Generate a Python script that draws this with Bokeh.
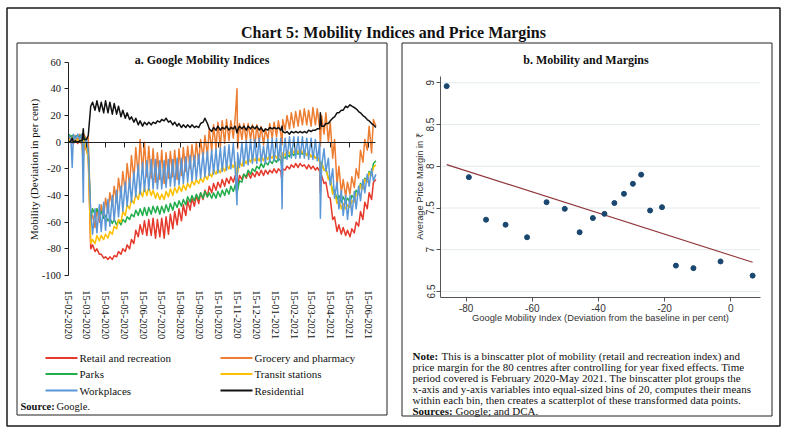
import pandas as pd
from bokeh.plotting import figure
from bokeh.models import (Range1d, LinearAxis, DatetimeAxis, FixedTicker,
                          DatetimeTickFormatter, CustomJSTickFormatter)
from bokeh.core.properties import value
from bokeh.embed import file_html
from bokeh.resources import INLINE

W, H = 787, 433

# ---------------- data: panel a (Google mobility indices) ----------------
dates = [
    "2020-02-16", "2020-02-19", "2020-02-21", "2020-02-23", "2020-02-26",
    "2020-03-01", "2020-03-04", "2020-03-08", "2020-03-10", "2020-03-11", "2020-03-15", "2020-03-18", "2020-03-22", "2020-03-25", "2020-03-29",
    "2020-04-01", "2020-04-05", "2020-04-08", "2020-04-12", "2020-04-15", "2020-04-19", "2020-04-22", "2020-04-26", "2020-04-29",
    "2020-05-03", "2020-05-06", "2020-05-10", "2020-05-13", "2020-05-17", "2020-05-20", "2020-05-24", "2020-05-27", "2020-05-31",
    "2020-06-03", "2020-06-07", "2020-06-10", "2020-06-14", "2020-06-17", "2020-06-21", "2020-06-24", "2020-06-28",
    "2020-07-01", "2020-07-05", "2020-07-08", "2020-07-12", "2020-07-15", "2020-07-19", "2020-07-22", "2020-07-26", "2020-07-29",
    "2020-08-02", "2020-08-05", "2020-08-09", "2020-08-12", "2020-08-16", "2020-08-19", "2020-08-23", "2020-08-26", "2020-08-30",
    "2020-09-02", "2020-09-06", "2020-09-09", "2020-09-13", "2020-09-16", "2020-09-20", "2020-09-23", "2020-09-27", "2020-09-30",
    "2020-10-04", "2020-10-07", "2020-10-11", "2020-10-14", "2020-10-18", "2020-10-21", "2020-10-25", "2020-10-28",
    "2020-11-01", "2020-11-04", "2020-11-08", "2020-11-11", "2020-11-14", "2020-11-15", "2020-11-18", "2020-11-22", "2020-11-25", "2020-11-29",
    "2020-12-02", "2020-12-06", "2020-12-09", "2020-12-13", "2020-12-16", "2020-12-20", "2020-12-23", "2020-12-27", "2020-12-30",
    "2021-01-03", "2021-01-06", "2021-01-10", "2021-01-13", "2021-01-17", "2021-01-20", "2021-01-24", "2021-01-26", "2021-01-27", "2021-01-31",
    "2021-02-03", "2021-02-07", "2021-02-10", "2021-02-14", "2021-02-17", "2021-02-21", "2021-02-24", "2021-02-28",
    "2021-03-03", "2021-03-07", "2021-03-10", "2021-03-14", "2021-03-17", "2021-03-21", "2021-03-24", "2021-03-28", "2021-03-29", "2021-03-31",
    "2021-04-04", "2021-04-07", "2021-04-11", "2021-04-14", "2021-04-18", "2021-04-21", "2021-04-25", "2021-04-28",
    "2021-05-02", "2021-05-05", "2021-05-09", "2021-05-12", "2021-05-16", "2021-05-19", "2021-05-23", "2021-05-26", "2021-05-30",
    "2021-06-02", "2021-06-06", "2021-06-09", "2021-06-13", "2021-06-16", "2021-06-20", "2021-06-23", "2021-06-27",
]

retail = [
    0, 2, 0, -1, 2,
    -1, 2, -2, -12, 0, -6, -10, -80, -77, -82,
    -80, -84, -84, -87, -86, -88, -86, -88, -85,
    -86, -82, -84, -80, -82, -77, -80, -73, -76,
    -66, -71, -62, -69, -59, -70, -58, -70,
    -57, -72, -58, -71, -57, -72, -56, -69, -54,
    -65, -52, -62, -50, -59, -47, -55, -44, -51,
    -42, -48, -40, -46, -38, -43, -36, -41, -33,
    -38, -31, -36, -30, -34, -28, -33, -27,
    -31, -26, -30, -25, -38, -33, -25, -28, -24, -27,
    -23, -27, -23, -26, -22, -25, -21, -25, -21,
    -24, -21, -23, -20, -23, -20, -22, -30, -20, -21,
    -18, -20, -17, -19, -16, -19, -16, -18,
    -17, -20, -17, -20, -18, -21, -19, -22, -38, -25,
    -31, -30, -41, -42, -58, -56, -67, -62,
    -69, -64, -70, -66, -71, -65, -68, -60, -63,
    -52, -58, -45, -50, -38, -43, -30, -28,
]

grocery = [
    2, 4, 5, 2, 5,
    2, 6, 3, -6, 6, 2, 4, -58, -55, -64,
    -50, -60, -47, -57, -42, -53, -38, -48, -33,
    -45, -27, -41, -22, -37, -16, -33, -10, -28,
    -4, -25, 2, -22, 0, -26, -3, -27,
    -5, -30, -8, -28, -6, -31, -8, -27, -7,
    -26, -6, -28, -5, -25, -4, -22, -3, -20,
    -2, -18, 0, -16, 2, -12, 5, -10, 10,
    -7, 13, -5, 15, -4, 16, -1, 17,
    1, 16, 3, 18, 40, -5, 14, 2, 14, 1,
    14, 2, 13, -3, 13, 0, 12, -2, 10,
    2, 14, 3, 15, 4, 16, 6, -2, 17, 9,
    20, 10, 22, 11, 23, 12, 24, 13,
    25, 13, 24, 12, 26, 13, 25, 10, -3, 20,
    6, 22, 0, 15, -12, 2, -32, -18,
    -38, -28, -41, -30, -39, -26, -34, -20, -27,
    -6, -15, 2, -6, 12, -8, 17, 12,
]

parks = [
    6, 4, 5, 5, 4,
    5, 4, 6, -4, 4, 0, -6, -58, -50, -54,
    -50, -54, -52, -57, -55, -59, -57, -61, -58,
    -62, -59, -62, -58, -60, -56, -58, -54, -56,
    -51, -55, -50, -55, -49, -55, -49, -54,
    -48, -53, -48, -54, -48, -53, -47, -52, -46,
    -51, -45, -49, -44, -48, -43, -47, -41, -45,
    -40, -44, -39, -43, -38, -42, -37, -41, -38,
    -42, -38, -42, -37, -41, -36, -40, -35,
    -39, -33, -37, -32, -38, -36, -29, -30, -24, -26,
    -21, -24, -20, -22, -18, -20, -16, -19, -15,
    -17, -14, -16, -13, -15, -12, -14, -20, -11, -12,
    -9, -11, -8, -10, -7, -9, -7, -9,
    -7, -10, -8, -11, -9, -12, -11, -14, -20, -15,
    -21, -20, -27, -28, -37, -36, -43, -40,
    -45, -41, -45, -42, -45, -40, -42, -36, -38,
    -31, -34, -27, -29, -22, -24, -16, -14,
]

transit = [
    1, 3, 2, 0, 3,
    0, 3, -1, -20, 2, -5, -12, -76, -73, -76,
    -70, -74, -70, -73, -69, -72, -67, -69, -63,
    -65, -58, -60, -52, -55, -47, -50, -43, -46,
    -39, -43, -36, -41, -34, -40, -34, -40,
    -36, -42, -38, -43, -39, -43, -37, -41, -35,
    -40, -34, -38, -33, -37, -32, -36, -31, -34,
    -29, -32, -28, -31, -27, -30, -25, -28, -23,
    -26, -21, -24, -20, -23, -18, -22, -17,
    -20, -16, -19, -15, -25, -23, -15, -18, -13, -16,
    -12, -15, -11, -14, -11, -14, -10, -14, -10,
    -13, -10, -12, -9, -12, -9, -11, -18, -8, -10,
    -6, -9, -5, -8, -5, -8, -5, -8,
    -6, -10, -7, -11, -9, -12, -11, -15, -25, -16,
    -21, -20, -28, -28, -39, -37, -46, -43,
    -50, -46, -50, -47, -49, -44, -45, -39, -39,
    -32, -35, -28, -30, -23, -25, -19, -17,
]

workplaces = [
    5, 2, -19, 6, 2,
    6, 2, 6, -45, -2, 3, -8, -52, -69, -50,
    -68, -47, -67, -45, -66, -43, -63, -40, -59,
    -36, -56, -33, -52, -30, -48, -27, -45, -22,
    -41, -17, -39, -15, -37, -14, -36, -13,
    -35, -13, -35, -14, -35, -14, -34, -13, -33,
    -13, -33, -12, -32, -12, -31, -11, -30, -10,
    -29, -10, -28, -9, -27, -8, -26, -7, -25,
    -6, -24, -5, -23, -4, -22, -3, -21,
    -2, -20, -1, -20, -47, -8, -19, 0, -18, 1,
    -17, 2, -16, 2, -16, 3, -15, -3, -16,
    2, -15, 3, -14, 3, -14, 3, -50, -14, 3,
    -13, 4, -12, 4, -12, 4, -12, 4,
    -12, 3, -13, 3, -13, 2, -14, 0, -57, -18,
    -5, -22, -12, -32, -20, -42, -30, -50,
    -36, -55, -40, -58, -40, -55, -37, -50, -33,
    -44, -28, -38, -24, -33, -20, -29, -24,
]

residential = [
    0, 1, 3, 0, 1,
    0, 1, 1, 10, 2, 2, 5, 27, 30, 24,
    31, 23, 30, 22, 31, 22, 30, 21, 29,
    21, 27, 19, 24, 18, 22, 17, 19, 15,
    18, 13, 16, 12, 15, 13, 15, 13,
    15, 14, 16, 15, 17, 16, 18, 15, 16,
    13, 15, 12, 14, 11, 13, 11, 13, 11,
    13, 11, 12, 11, 14, 15, 18, 14, 10,
    8, 11, 9, 12, 9, 11, 10, 12,
    9, 11, 10, 12, 7, 9, 12, 10, 12, 9,
    12, 10, 12, 10, 12, 9, 11, 8, 10,
    9, 11, 10, 11, 10, 11, 9, 12, 8, 7,
    8, 6, 8, 7, 8, 7, 8, 7,
    8, 7, 9, 8, 9, 9, 10, 10, 22, 12,
    12, 14, 14, 16, 18, 19, 22, 22,
    24, 24, 27, 26, 28, 27, 26, 25, 23,
    22, 20, 19, 17, 16, 14, 13, 11,
]

series_names = ["Retail and recreation", "Grocery and pharmacy", "Parks",
                "Transit stations", "Workplaces", "Residential"]
series_values = [retail, grocery, parks, transit, workplaces, residential]
series_colors = ["#e5392b", "#ed7d31", "#21ad4b", "#ffc000", "#5b96d6", "#111111"]

left_yticks = [-100, -80, -60, -40, -20, 0, 20, 40, 60]
left_xticks = ["2020-02-15", "2020-03-15", "2020-04-15", "2020-05-15", "2020-06-15",
               "2020-07-15", "2020-08-15", "2020-09-15", "2020-10-15", "2020-11-15",
               "2020-12-15", "2021-01-15", "2021-02-15", "2021-03-15", "2021-04-15",
               "2021-05-15", "2021-06-15"]

# ---------------- data: panel b (binscatter) ----------------
bin_mobility = [-85.9, -79.2, -74.0, -68.1, -61.6, -55.7, -50.2, -45.7, -41.7, -38.2,
                -35.2, -32.3, -29.6, -27.1, -24.4, -20.8, -16.6, -11.3, -3.1, 6.6]
bin_margin = [8.96, 7.87, 7.36, 7.30, 7.15, 7.57, 7.49, 7.21, 7.38, 7.43,
              7.56, 7.67, 7.79, 7.90, 7.47, 7.51, 6.81, 6.78, 6.86, 6.69]
fit_mobility = [-85.9, 6.6]
fit_margin = [8.02, 6.85]
right_yticks = [6.5, 7, 7.5, 8, 8.5, 9]
right_xticks = [-80, -60, -40, -20, 0]

# ---------------- texts ----------------
title = "Chart 5: Mobility Indices and Price Margins"
sub_a = "a. Google Mobility Indices"
sub_b = "b. Mobility and Margins"
ylab_a = "Mobility (Deviation in per cent)"
ylab_b = "Average Price Margin in \u20b9"
xlab_b = "Google Mobility Index (Deviation from the baseline in per cent)"
note_first_rest = "This is a binscatter plot of mobility (retail and recreation index) and"
note_lines = ["price margin for the 80 centres after controlling for year fixed effects. Time",
              "period covered is February 2020-May 2021. The binscatter plot groups the",
              "x-axis and y-axis variables into equal-sized bins of 20, computes their means",
              "within each bin, then creates a scatterplot of these transformed data points."]


def ms(s):
    return pd.Timestamp(s).value / 1e6


def px_map(p0, v0, p1, v1):
    k = (v1 - v0) / (p1 - p0)
    return lambda px: v0 + (px - p0) * k


SERIF = value("Liberation Serif")
SANS = value("Liberation Sans")
INK = "#111111"

p = figure(width=W, height=H, output_backend="svg", toolbar_location=None,
           x_range=Range1d(0, W), y_range=Range1d(H, 0),
           x_axis_type=None, y_axis_type=None, min_border=0,
           outline_line_color=None, background_fill_color="white",
           border_fill_color="white")

# pixel -> data mappings for each panel (page pixels)
lx = px_map(68, ms("2020-02-15"), 368, ms("2021-06-15"))
ly = px_map(61.7, 60, 275, -100)
rxm = px_map(465.7, -80, 730.3, 0)
rym = px_map(82.3, 9, 291, 6.5)

p.extra_x_ranges = {"lx": Range1d(lx(0), lx(W)), "rx": Range1d(rxm(0), rxm(W))}
p.extra_y_ranges = {"ly": Range1d(ly(H), ly(0)), "ry": Range1d(rym(H), rym(0))}

# ---------------- frames ----------------
p.quad(left=[6.5], right=[779.5], top=[7.5], bottom=[425.5],
       fill_color=None, line_color="#1a1a1a", line_width=1.5)
p.quad(left=[16.5, 401.5], right=[386.5, 771.5], top=[42.5, 42.5], bottom=[414.5, 415.5],
       fill_color=None, line_color="#222222", line_width=1)

p.text(x=[393], y=[32], text=[title], text_font=SERIF, text_font_style="bold",
       text_font_size="16px", text_align="center", text_baseline="alphabetic", text_color=INK)
p.text(x=[201.5, 585.5], y=[59, 59], text=[sub_a, sub_b], text_font=SERIF, text_font_style="bold",
       text_font_size="12px", text_align="center", text_baseline="alphabetic", text_color=INK)

# ---------------- panel a ----------------
xs = [ms(d) for d in dates]
for vals, col in zip(series_values, series_colors):
    p.line(x=xs, y=vals, x_range_name="lx", y_range_name="ly", line_color=col,
           line_width=1.5, line_join="round")

yax = LinearAxis(x_range_name="lx", y_range_name="ly", fixed_location=lx(67.5),
                 bounds=(-100, 60), ticker=FixedTicker(ticks=left_yticks),
                 formatter=CustomJSTickFormatter(code="return String(tick)"),
                 major_tick_out=4, major_tick_in=0, minor_tick_out=0, minor_tick_in=0,
                 major_label_standoff=3, axis_line_color="#222222", major_tick_line_color="#222222",
                 major_label_text_font="Liberation Serif", major_label_text_font_size="10.5px",
                 major_label_text_color=INK)
p.add_layout(yax, "left")

fmt = "%d-%m-%Y"
xax = DatetimeAxis(x_range_name="lx", y_range_name="ly", fixed_location=0,
                   bounds=(lx(67.5), ms("2021-06-27")),
                   ticker=FixedTicker(ticks=[ms(t) for t in left_xticks]),
                   formatter=DatetimeTickFormatter(microseconds=fmt, milliseconds=fmt, seconds=fmt,
                                                   minsec=fmt, minutes=fmt, hourmin=fmt, hours=fmt,
                                                   days=fmt, months=fmt, years=fmt),
                   major_label_orientation="vertical", major_label_standoff=143,
                   major_tick_out=5, major_tick_in=0, minor_tick_out=0, minor_tick_in=0,
                   axis_line_color="#222222", major_tick_line_color="#222222",
                   major_label_text_font="Liberation Serif", major_label_text_font_size="10.5px",
                   major_label_text_color=INK)
p.add_layout(xax, "below")

p.text(x=[33], y=[169], text=[ylab_a], angle=1.5707963, text_font=SERIF, text_font_size="11px",
       text_align="center", text_baseline="middle", text_color=INK)

# legend
leg_x0 = [45, 220, 45, 220, 45, 220]
leg_y = [357.5, 357.5, 373.5, 373.5, 390, 390]
p.segment(x0=leg_x0, x1=[x + 32 for x in leg_x0], y0=leg_y, y1=leg_y,
          line_color=series_colors, line_width=2)
p.text(x=[x + 34 for x in leg_x0], y=leg_y, text=series_names, text_font=SERIF,
       text_font_size="11px", text_align="left", text_baseline="middle", text_color=INK)
p.text(x=[20], y=[406], text=["Source:"], text_font=SERIF, text_font_style="bold",
       text_font_size="10.5px", text_align="left", text_baseline="middle", text_color=INK)
p.text(x=[56], y=[406], text=["Google."], text_font=SERIF,
       text_font_size="10.5px", text_align="left", text_baseline="middle", text_color=INK)

# ---------------- panel b ----------------
xlo, xhi = rxm(440), rxm(760)
ylo, yhi = rym(297), rym(75.7)
p.segment(x0=[xlo] * len(right_yticks), x1=[xhi] * len(right_yticks), y0=right_yticks,
          y1=right_yticks, x_range_name="rx", y_range_name="ry", line_color="#e3eaed", line_width=1)
p.line(x=fit_mobility, y=fit_margin, x_range_name="rx", y_range_name="ry",
       line_color="#90353b", line_width=1.1)
p.scatter(x=bin_mobility, y=bin_margin, x_range_name="rx", y_range_name="ry",
          size=5, fill_color="#1a476f", line_color="#1a476f")

ryax = LinearAxis(x_range_name="rx", y_range_name="ry", fixed_location=xlo, bounds=(ylo, yhi),
                  ticker=FixedTicker(ticks=right_yticks),
                  formatter=CustomJSTickFormatter(code="return String(tick)"),
                  major_label_orientation="vertical", major_tick_out=4, major_tick_in=0,
                  minor_tick_out=0, minor_tick_in=0, major_label_standoff=2,
                  axis_line_color="#555555", major_tick_line_color="#555555",
                  major_label_text_font="Liberation Sans", major_label_text_font_size="10px",
                  major_label_text_color="#333333")
p.add_layout(ryax, "left")
rxax = LinearAxis(x_range_name="rx", y_range_name="ry", fixed_location=ylo, bounds=(xlo, xhi),
                  ticker=FixedTicker(ticks=right_xticks),
                  formatter=CustomJSTickFormatter(code="return String(tick)"),
                  major_tick_out=4, major_tick_in=0, minor_tick_out=0, minor_tick_in=0,
                  major_label_standoff=2,
                  axis_line_color="#555555", major_tick_line_color="#555555",
                  major_label_text_font="Liberation Sans", major_label_text_font_size="10px",
                  major_label_text_color="#333333")
p.add_layout(rxax, "below")

p.text(x=[419], y=[186], text=[ylab_b], angle=1.5707963, text_font=SANS, text_font_size="9.3px",
       text_align="center", text_baseline="middle", text_color="#333333")
p.text(x=[600], y=[317], text=[xlab_b], text_font=SANS, text_font_size="9.3px",
       text_align="center", text_baseline="middle", text_color="#333333")

# note
p.text(x=[412], y=[355], text=["Note:"], text_font=SERIF, text_font_style="bold",
       text_font_size="11px", text_align="left", text_baseline="middle", text_color=INK)
p.text(x=[441], y=[355], text=[note_first_rest], text_font=SERIF,
       text_font_size="11px", text_align="left", text_baseline="middle", text_color=INK)
p.text(x=[412] * 4, y=[366, 377, 388, 399], text=note_lines, text_font=SERIF,
       text_font_size="11px", text_align="left", text_baseline="middle", text_color=INK)
p.text(x=[412], y=[410], text=["Sources:"], text_font=SERIF, text_font_style="bold",
       text_font_size="11px", text_align="left", text_baseline="middle", text_color=INK)
p.text(x=[455], y=[410], text=["Google; and DCA."], text_font=SERIF,
       text_font_size="11px", text_align="left", text_baseline="middle", text_color=INK)

open("out.html", "w").write(file_html(p, INLINE))
